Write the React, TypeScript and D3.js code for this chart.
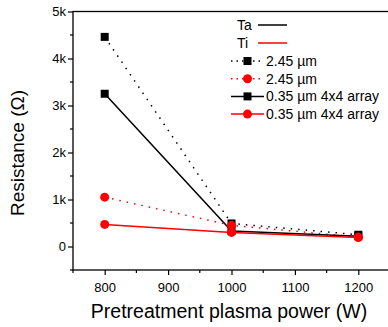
import React, { useEffect, useRef } from "react";
import * as d3 from "d3";

const powers = [800, 1000, 1200];
const taThick = [4460, 490, 250];
const taArray = [3250, 330, 220];
const tiThick = [1050, 450, 200];
const tiArray = [470, 300, 190];
const xTicks = [800, 900, 1000, 1100, 1200];
const yTicks = [0, 1000, 2000, 3000, 4000, 5000];

const series = [
  { name: "2.45 \u00b5m", values: taThick, color: "#000", dotted: true, shape: "square" },
  { name: "2.45 \u00b5m", values: tiThick, color: "#f00", dotted: true, shape: "circle" },
  { name: "0.35 \u00b5m 4x4 array", values: taArray, color: "#000", dotted: false, shape: "square" },
  { name: "0.35 \u00b5m 4x4 array", values: tiArray, color: "#f00", dotted: false, shape: "circle" },
];

const App = () => {
  const svgRef = useRef<SVGSVGElement | null>(null);
  const width = 388;
  const height = 327;

  useEffect(() => {
    const margin = { top: 11.5, right: -2, bottom: 57, left: 73 };
    const innerWidth = width - margin.left - margin.right;
    const innerHeight = height - margin.top - margin.bottom;
    const font = "Liberation Sans, Arial, sans-serif";

    const svg = d3.select(svgRef.current);
    svg.selectAll("*").remove();

    const x = d3.scaleLinear().domain([750, 1250]).range([0, innerWidth]);
    const y = d3.scaleLinear().domain([-500, 5000]).range([innerHeight, 0]);

    const g = svg.append("g").attr("transform", `translate(${margin.left},${margin.top})`);

    // frame
    g.append("rect")
      .attr("width", innerWidth)
      .attr("height", innerHeight)
      .attr("fill", "none")
      .attr("stroke", "#000")
      .attr("stroke-width", 1.3);

    const yAxis = d3
      .axisLeft(y)
      .tickValues(yTicks)
      .tickFormat((d) => (d === 0 ? "0" : `${+d / 1000}k`))
      .tickSize(5)
      .tickPadding(2);
    const yG = g.append("g").call(yAxis);
    yG.select(".domain").remove();
    yG.selectAll("text").attr("font-family", font).attr("font-size", 13).attr("fill", "#000");
    yG.selectAll("line").attr("stroke-width", 1.2);
    // minor y ticks
    g.selectAll(".ymin")
      .data(d3.range(-500, 5000, 1000))
      .enter()
      .append("line")
      .attr("x1", -3)
      .attr("x2", 0)
      .attr("y1", (d) => y(d))
      .attr("y2", (d) => y(d))
      .attr("stroke", "#000")
      .attr("stroke-width", 1.2);

    const xAxis = d3.axisBottom(x).tickValues(xTicks).tickFormat(d3.format("d")).tickSize(5).tickPadding(8);
    const xG = g.append("g").attr("transform", `translate(0,${innerHeight})`).call(xAxis);
    xG.select(".domain").remove();
    xG.selectAll("text").attr("font-family", font).attr("font-size", 13).attr("fill", "#000");
    xG.selectAll("line").attr("stroke-width", 1.2);
    g.selectAll(".xmin")
      .data(d3.range(750, 1250, 100))
      .enter()
      .append("line")
      .attr("x1", (d) => x(d))
      .attr("x2", (d) => x(d))
      .attr("y1", innerHeight)
      .attr("y2", innerHeight + 3)
      .attr("stroke", "#000")
      .attr("stroke-width", 1.2);

    svg.append("text")
      .attr("x", 229)
      .attr("y", 318)
      .attr("text-anchor", "middle")
      .attr("font-family", font)
      .attr("font-size", 19.5)
      .text("Pretreatment plasma power (W)");

    svg.append("text")
      .attr("transform", `translate(24,153) rotate(-90)`)
      .attr("text-anchor", "middle")
      .attr("font-family", font)
      .attr("font-size", 19)
      .text("Resistance (\u03a9)");

    const line = d3
      .line<number>()
      .x((_, i) => x(powers[i]))
      .y((d) => y(d));

    const drawMarker = (sel: any, shape: string, color: string, cx: number, cy: number) => {
      if (shape === "square") {
        sel.append("rect")
          .attr("x", cx - 4)
          .attr("y", cy - 4)
          .attr("width", 8)
          .attr("height", 8)
          .attr("fill", color);
      } else {
        sel.append("circle").attr("cx", cx).attr("cy", cy).attr("r", 4.5).attr("fill", color);
      }
    };

    series.forEach((s) => {
      g.append("path")
        .datum(s.values)
        .attr("d", line)
        .attr("fill", "none")
        .attr("stroke", s.color)
        .attr("stroke-width", 1.5)
        .attr("stroke-dasharray", s.dotted ? "1.5,6" : null);
    });
    [2, 3, 0, 1].forEach((k) => {
      const s = series[k];
      s.values.forEach((v, i) => drawMarker(g, s.shape, s.color, x(powers[i]), y(v)));
    });

    // legend
    const lg = svg.append("g");
    const heads = [
      { name: "Ta", color: "#000", y: 25 },
      { name: "Ti", color: "#f00", y: 43 },
    ];
    heads.forEach((h) => {
      lg.append("text")
        .attr("x", 237)
        .attr("y", h.y + 5)
        .attr("font-family", font)
        .attr("font-size", 14)
        .text(h.name);
      lg.append("line")
        .attr("x1", 258)
        .attr("x2", 287)
        .attr("y1", h.y)
        .attr("y2", h.y)
        .attr("stroke", h.color)
        .attr("stroke-width", 1.5);
    });
    series.forEach((s, i) => {
      const ly = 61 + i * 17.7;
      lg.append("line")
        .attr("x1", 231)
        .attr("x2", 264)
        .attr("y1", ly)
        .attr("y2", ly)
        .attr("stroke", s.color)
        .attr("stroke-width", 1.5)
        .attr("stroke-dasharray", s.dotted ? "1.5,4" : null);
      drawMarker(lg, s.shape, s.color, 247.5, ly);
      lg.append("text")
        .attr("x", 266)
        .attr("y", ly + 5)
        .attr("font-family", font)
        .attr("font-size", 14)
        .text(s.name);
    });
  }, []);

  return <svg ref={svgRef} width={width} height={height} style={{ position: "absolute", left: 0, top: 0 }}></svg>;
};

export default App;
